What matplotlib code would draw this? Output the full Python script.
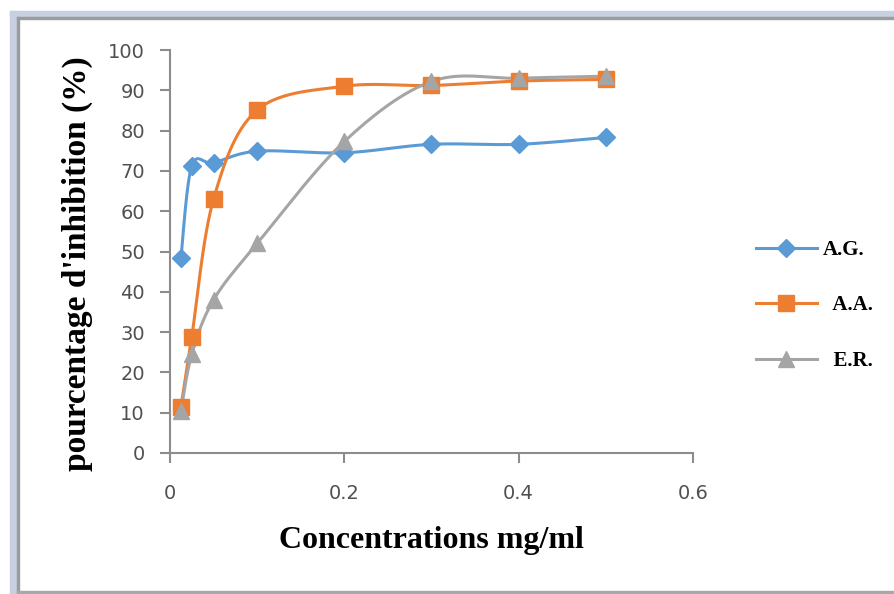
import numpy as np
import matplotlib
matplotlib.use("Agg")
import matplotlib.pyplot as plt
from matplotlib.patches import Rectangle
from matplotlib.lines import Line2D

# data
conc = [0.0125, 0.025, 0.05, 0.1, 0.2, 0.3, 0.4, 0.5]
ag = [48.3, 71.2, 72.0, 74.9, 74.5, 76.6, 76.6, 78.3]
aa = [11.3, 28.9, 63.0, 85.1, 91.0, 91.2, 92.3, 92.7]
er = [10.3, 24.5, 38.0, 52.0, 77.3, 92.2, 93.0, 93.5]
labels = ["A.G.", "  A.A.", "  E.R."]
colors = ["#5b9bd5", "#ed7d31", "#a5a5a5"]
markers = ["D", "s", "^"]
msizes = [9, 11, 11]


def smooth(x, y, n=30):
    # Excel style smoothed line: Bezier through the points (Catmull-Rom tangents)
    p = np.column_stack([x, y]).astype(float)
    ext = np.vstack([p[0], p, p[-1]])
    out = []
    for i in range(len(p) - 1):
        p0, p1, p2, p3 = ext[i], ext[i + 1], ext[i + 2], ext[i + 3]
        c1 = p1 + (p2 - p0) / 6
        c2 = p2 - (p3 - p1) / 6
        t = np.linspace(0, 1, n)[:, None]
        seg = (1 - t) ** 3 * p1 + 3 * (1 - t) ** 2 * t * c1 + 3 * (1 - t) * t ** 2 * c2 + t ** 3 * p2
        out.append(seg if i == 0 else seg[1:])
    s = np.vstack(out)
    return s[:, 0], s[:, 1]


fig = plt.figure(figsize=(8.95, 5.94), dpi=100)
W, H = 895, 594

# frame around the chart
def px_rect(x0, y0, x1, y1, color):
    fig.patches.append(Rectangle((x0 / W, 1 - y1 / H), (x1 - x0) / W, (y1 - y0) / H,
                                 transform=fig.transFigure, color=color, zorder=0))

px_rect(10, 11, 895, 17, "#c6d0e0")
px_rect(10, 11, 17, 594, "#c6d0e0")
px_rect(17, 17, 895, 19, "#9c9c9c")
px_rect(17, 17, 19, 594, "#9c9c9c")
px_rect(17, 591, 895, 594, "#a8a8a8")

ax = fig.add_axes([170 / W, 1 - 453 / H, (693 - 170) / W, (453 - 50) / H])

handles = []
for ys, c, m, ms, lab in zip([ag, aa, er], colors, markers, msizes, labels):
    sx, sy = smooth(conc, ys)
    ax.plot(sx, sy, color=c, lw=2.2, zorder=2)
    ax.plot(conc, ys, ls="none", marker=m, ms=ms, color=c, zorder=3)
    handles.append(Line2D([], [], color=c, lw=2.2, marker=m, ms=ms))

ax.set_xlim(0, 0.6)
ax.set_ylim(0, 100)
ax.set_xticks([0, 0.2, 0.4, 0.6])
ax.set_xticklabels(["0", "0.2", "0.4", "0.6"])
ax.set_yticks(range(0, 101, 10))

for s in ["top", "right"]:
    ax.spines[s].set_visible(False)
for s in ["left", "bottom"]:
    ax.spines[s].set_color("#8c8c8c")
    ax.spines[s].set_linewidth(1.5)
ax.tick_params(colors="#8c8c8c", length=7, width=1.5, labelsize=14,
               labelcolor="#505050")
ax.tick_params(axis="x", pad=15)
ax.tick_params(axis="y", pad=11)
for t in ax.get_xticklabels() + ax.get_yticklabels():
    t.set_fontfamily("DejaVu Sans")

ax.set_xlabel("Concentrations mg/ml", fontsize=23, fontweight="bold",
              family="Liberation Serif")
ax.set_ylabel("pourcentage d'inhibition (%)", fontsize=24, fontweight="bold",
              family="Liberation Serif")
ax.xaxis.set_label_coords(0.5, -0.18)
ax.yaxis.set_label_coords(-0.147, 0.469)

leg = ax.legend(handles, labels, loc="upper left", bbox_to_anchor=(1.085, 0.575),
                frameon=False, handlelength=2.9, labelspacing=1.7, handletextpad=0.3,
                prop={"family": "Liberation Serif", "weight": "bold", "size": 15})

fig.savefig("out.png", dpi=100)
